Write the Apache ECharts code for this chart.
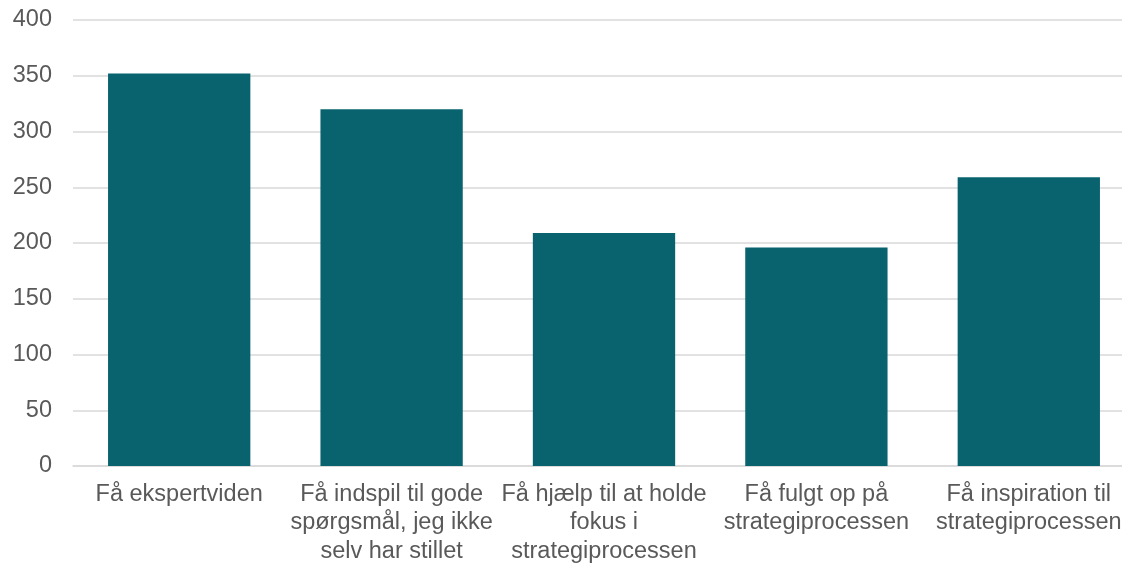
<!DOCTYPE html>
<html>
<head>
<meta charset="utf-8">
<script src="https://cdn.jsdelivr.net/npm/echarts@6/dist/echarts.min.js"></script>
<style>
html,body{margin:0;padding:0;background:#fff;}
#chart{width:1122px;height:566px;}
</style>
</head>
<body>
<div id="chart"></div>
<script>
const categories = [
  "Få ekspertviden",
  "Få indspil til gode\nspørgsmål, jeg ikke\nselv har stillet",
  "Få hjælp til at holde\nfokus i\nstrategiprocessen",
  "Få fulgt op på\nstrategiprocessen",
  "Få inspiration til\nstrategiprocessen"
];
const values = [352, 320, 209, 196, 259];
const yMin = 0, yMax = 400, yInterval = 50;

const chart = echarts.init(document.getElementById('chart'), null, {renderer: 'canvas'});
const font = "Liberation Sans, Arial, sans-serif";
chart.setOption({
  animation: false,
  backgroundColor: '#ffffff',
  grid: {left: 73, width: 1062, top: 20, bottom: 100, containLabel: false, outerBoundsMode: 'none'},
  xAxis: {
    type: 'category',
    data: categories,
    axisLine: {show: true, lineStyle: {color: '#d9d9d9', width: 1.5}},
    axisTick: {show: false},
    axisLabel: {
      interval: 0, margin: 14, color: '#595959',
      fontFamily: font, fontSize: 23.5, lineHeight: 28.5, align: 'center'
    }
  },
  yAxis: {
    type: 'value', min: yMin, max: yMax, interval: yInterval,
    axisLine: {show: false}, axisTick: {show: false},
    splitLine: {lineStyle: {color: '#d9d9d9', width: 1.5}},
    axisLabel: {margin: 21, color: '#595959', fontFamily: font, fontSize: 23.5}
  },
  series: [{
    type: 'bar',
    data: values,
    barCategoryGap: '33%',
    itemStyle: {color: '#08636f'}
  }]
});
</script>
</body>
</html>
